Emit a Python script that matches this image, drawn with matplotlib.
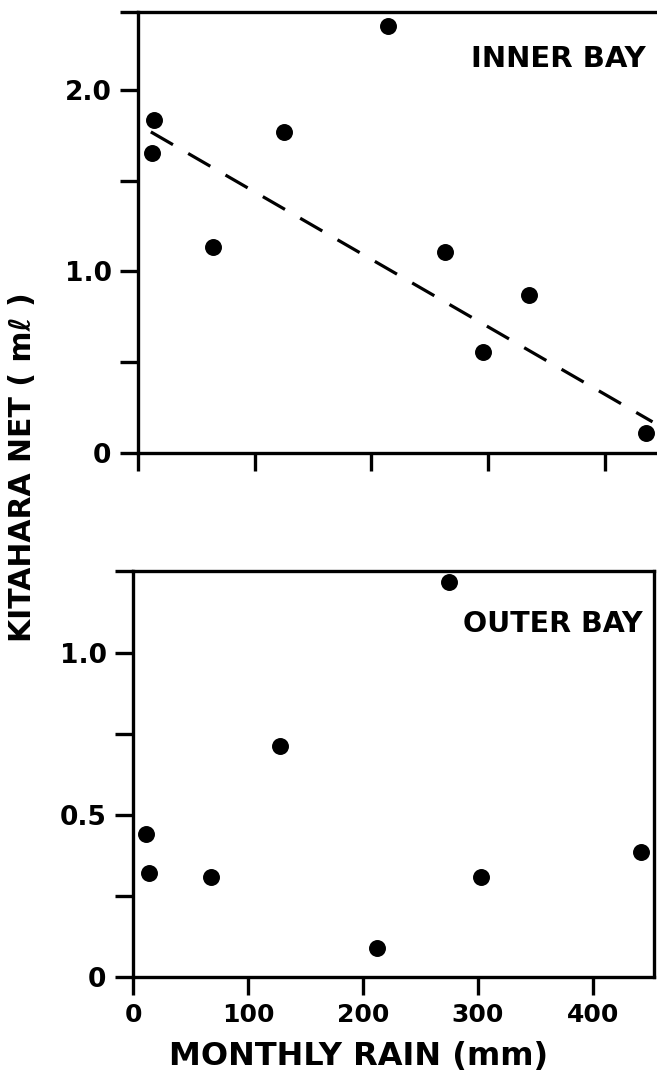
import numpy as np
import matplotlib
matplotlib.use("Agg")
import matplotlib.pyplot as plt
from matplotlib.ticker import FixedLocator

# inner bay (top panel)
inner_rain = [14, 12, 64, 125, 214, 263, 296, 335, 435]
inner_net = [1.835, 1.651, 1.136, 1.77, 2.353, 1.105, 0.557, 0.87, 0.11]
# dashed regression line end points
fit_rain = [11, 441]
fit_net = [1.77, 0.17]

# outer bay (bottom panel)
outer_rain = [11.5, 14, 68, 128, 212.5, 275, 303, 441.5]
outer_net = [0.443, 0.32, 0.308, 0.713, 0.089, 1.22, 0.308, 0.387]

x_ticks = [0, 100, 200, 300, 400]
x_labels = ["0", "100", "200", "300", "400"]

plt.rcParams['font.family'] = ['DejaVu Sans']
plt.rcParams['font.weight'] = 'bold'

fig = plt.figure(figsize=(6.57, 10.76), dpi=100)

# axes placed by hand to match the scanned figure
ax1 = fig.add_axes([138 / 657, 0.5793, 525 / 657, 0.4093])
ax2 = fig.add_axes([133 / 657, 0.0920, 521 / 657, 0.3776])

lw = 2.4

def style(ax, ymax, major, minor):
    for s in ax.spines.values():
        s.set_linewidth(lw)
    ax.set_yticks(major)
    ax.yaxis.set_minor_locator(FixedLocator(minor + [ymax]))
    ax.tick_params(axis='both', which='both', direction='out', length=13,
                   width=lw, labelsize=19, pad=6)
    ax.set_xticks(x_ticks)

# top panel
ax1.scatter(inner_rain, inner_net, s=125, color='black', zorder=3)
ax1.plot(fit_rain, fit_net, color='black', lw=2.3, linestyle=(0, (8, 5.5)))
ax1.set_xlim(0, 450)
ax1.set_ylim(0, 2.43)
style(ax1, 2.43, [0, 1.0, 2.0], [0.5, 1.5])
ax1.set_yticklabels(["0", "1.0", "2.0"], fontweight='bold')
ax1.set_xticklabels([])
ax1.spines['right'].set_visible(False)
ax1.text(0.966, 0.894, "INNER BAY", transform=ax1.transAxes, ha='right',
         va='center', fontsize=21, fontweight='bold')

# bottom panel
ax2.scatter(outer_rain, outer_net, s=125, color='black', zorder=3)
ax2.set_xlim(0, 453)
ax2.set_ylim(0, 1.255)
style(ax2, 1.255, [0, 0.5, 1.0], [0.25, 0.75])
ax2.set_yticklabels(["0", "0.5", "1.0"], fontweight='bold')
ax2.set_xticklabels(x_labels, fontweight='bold', fontsize=18)
ax2.text(0.979, 0.870, "OUTER BAY", transform=ax2.transAxes, ha='right',
         va='center', fontsize=20.5, fontweight='bold')

fig.text(0.034, 0.566, "KITAHARA NET ( mℓ )", rotation=90, ha='center',
         va='center', fontsize=21.5, fontweight='bold')
fig.text(0.546, 0.018, "MONTHLY RAIN (mm)", ha='center', va='center',
         fontsize=23, fontweight='bold')

fig.savefig("out.png", dpi=100)
